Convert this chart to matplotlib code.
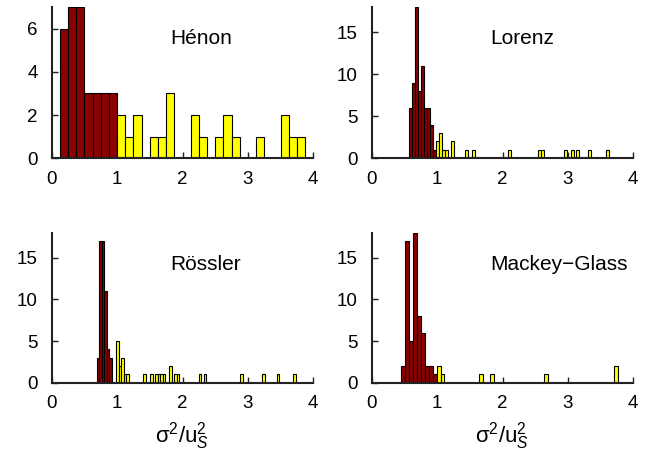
import matplotlib
matplotlib.use("Agg")
import matplotlib.pyplot as plt

plt.rcParams['font.family'] = ['Liberation Sans', 'DejaVu Sans']
plt.rcParams['mathtext.fontset'] = 'custom'
plt.rcParams['mathtext.rm'] = 'Liberation Sans'
plt.rcParams['mathtext.it'] = 'Liberation Sans:italic'

# bin left edges + counts
henon_w = 0.125
henon_red_x = [0.125, 0.25, 0.375, 0.5, 0.625, 0.75, 0.875]
henon_red_n = [6, 7, 7, 3, 3, 3, 3]
henon_yel_x = [1.0, 1.125, 1.25, 1.5, 1.625, 1.75, 2.125, 2.25, 2.5, 2.625, 2.75, 3.125, 3.5, 3.625, 3.75]
henon_yel_n = [2, 1, 2, 1, 1, 3, 2, 1, 1, 2, 1, 1, 2, 1, 1]

lorenz_w = 0.046
lorenz_red_x = [0.575, 0.621, 0.667, 0.713, 0.759, 0.805, 0.851, 0.897, 0.943]
lorenz_red_n = [6, 9, 18, 8, 11, 6, 6, 4, 1]
lorenz_yel_x = [0.989, 1.035, 1.081, 1.127, 1.219, 1.42, 1.54, 2.08, 2.54, 2.586, 2.945, 3.04, 3.12, 3.31, 3.59]
lorenz_yel_n = [2, 3, 1, 1, 2, 1, 1, 1, 1, 1, 1, 1, 1, 1, 1]

rossler_w = 0.038
rossler_red_x = [0.69, 0.728, 0.766, 0.804, 0.842, 0.88]
rossler_red_n = [3, 17, 17, 11, 4, 3]
rossler_yel_x = [0.99, 1.028, 1.066, 1.104, 1.142, 1.40, 1.51, 1.586, 1.624, 1.662, 1.70,
                 1.80, 1.876, 1.914, 2.25, 2.325, 2.88, 3.22, 3.44, 3.69]
rossler_yel_n = [5, 2, 3, 1, 1, 1, 1, 1, 1, 1, 1, 2, 1, 1, 1, 1, 1, 1, 1, 1]

mg_w = 0.06
mg_red_x = [0.453, 0.513, 0.573, 0.633, 0.693, 0.753, 0.813, 0.873, 0.933]
mg_red_n = [2, 17, 5, 18, 8, 6, 2, 2, 1]
mg_yel_x = [0.993, 1.053, 1.64, 1.81, 2.64, 3.70]
mg_yel_n = [2, 1, 1, 1, 1, 2]

panels = [
    ("Hénon", henon_w, henon_red_x, henon_red_n, henon_yel_x, henon_yel_n, 7, [0, 2, 4, 6]),
    ("Lorenz", lorenz_w, lorenz_red_x, lorenz_red_n, lorenz_yel_x, lorenz_yel_n, 18, [0, 5, 10, 15]),
    ("Rössler", rossler_w, rossler_red_x, rossler_red_n, rossler_yel_x, rossler_yel_n, 18, [0, 5, 10, 15]),
    ("Mackey\u2212Glass", mg_w, mg_red_x, mg_red_n, mg_yel_x, mg_yel_n, 18, [0, 5, 10, 15]),
]

W, H = 663, 455
# axes boxes in pixels: left, top, right, bottom
boxes = [(51.7, 7, 313.3, 158.3), (371.7, 7, 633.3, 158.3),
         (51.7, 232.7, 313.3, 382.7), (371.7, 232.7, 633.3, 382.7)]

fig = plt.figure(figsize=(W/100, H/100), dpi=100)
FS = 13.5
for i, (name, w, rx, rn, yx, yn, ytop, yt) in enumerate(panels):
    l, t, r, b = boxes[i]
    ax = fig.add_axes([l/W, 1 - b/H, (r-l)/W, (b-t)/H])
    ax.bar(rx, rn, width=w, align='edge', color='#8b0000', edgecolor='black', linewidth=0.8, zorder=2)
    ax.bar(yx, yn, width=w, align='edge', color='#ffff00', edgecolor='black', linewidth=0.8, zorder=2)
    ax.set_xlim(0, 4)
    ax.set_ylim(0, ytop)
    ax.set_xticks([0, 1, 2, 3, 4])
    ax.set_yticks(yt)
    for s in ['top', 'right']:
        ax.spines[s].set_visible(False)
    for s in ['left', 'bottom']:
        ax.spines[s].set_linewidth(1.5)
        ax.spines[s].set_color('#222222')
        ax.spines[s].set_zorder(3)
    ax.tick_params(axis='x', direction='in', length=4, width=1, color='#222222', labelsize=FS, pad=9)
    ax.tick_params(axis='y', direction='in', length=4, width=1, color='#222222', labelsize=FS, pad=10)
    ax.text(0.452, 0.79, name, transform=ax.transAxes, ha='left', va='center', fontsize=15)
    if i >= 2:
        ax.set_xlabel(r'$\mathrm{\sigma^2/u}_S^2$', fontsize=16, labelpad=6)

fig.savefig("out.png", dpi=100)
